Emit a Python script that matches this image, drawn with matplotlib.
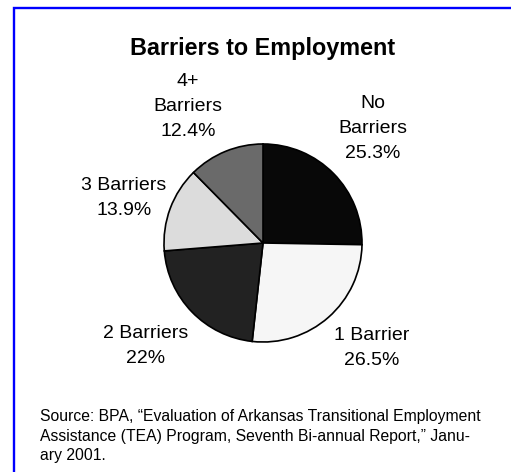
import matplotlib
matplotlib.use("Agg")
import matplotlib.pyplot as plt
from matplotlib.patches import Rectangle

plt.rcParams['font.family'] = ['Liberation Sans', 'DejaVu Sans']

# Share of TEA participants by number of employment barriers
categories = ["No\nBarriers", "1 Barrier", "2 Barriers", "3 Barriers", "4+\nBarriers"]
shares = [25.3, 26.5, 22.0, 13.9, 12.4]
value_labels = ["25.3%", "26.5%", "22%", "13.9%", "12.4%"]
slice_colors = ["#080808", "#f6f6f6", "#222222", "#dcdcdc", "#6a6a6a"]

W, H = 511, 472
fig = plt.figure(figsize=(W / 100, H / 100), dpi=100)
fig.patch.set_facecolor("white")


def px(x, y):
    """Pixel position (from top-left) to figure fraction."""
    return x / W, 1 - y / H


# Blue frame around the panel
fig.add_artist(Rectangle(px(14, 480), (W + 20) / W, (480 - 8) / H,
                         transform=fig.transFigure, fill=False,
                         edgecolor="#0000ff", linewidth=1.7))

fig.text(*px(263, 55), "Barriers to Employment", ha="center", va="baseline",
         fontsize=16.8, fontweight="bold", color="black")

# Pie: centre (263, 243) px, radius 100 px
cx, cy, r = 263, 243, 100
ax = fig.add_axes([(cx - r) / W, (H - cy - r) / H, 2 * r / W, 2 * r / H])
ax.pie(shares, colors=slice_colors, startangle=90, counterclock=False,
       wedgeprops=dict(edgecolor="black", linewidth=1.2))
ax.set_xlim(-1.01, 1.01)
ax.set_ylim(-1.01, 1.01)
ax.axis("off")

# Slice labels (baseline of the last line)
label_pos = [(373, 158), (372, 365), (146, 363), (124, 215), (188, 136)]
for (x, y), cat, val in zip(label_pos, categories, value_labels):
    fig.text(*px(x, y), f"{cat}\n{val}", ha="center", va="baseline",
             fontsize=14, linespacing=1.6, color="black", multialignment="center")

source = ("Source: BPA, \u201cEvaluation of Arkansas Transitional Employment\n"
          "Assistance (TEA) Program, Seventh Bi-annual Report,\u201d Janu-\n"
          "ary 2001.")
fig.text(*px(40, 460), source, ha="left", va="baseline", fontsize=11.3,
         linespacing=1.36, color="black")

fig.savefig("out.png", dpi=100, facecolor="white")
